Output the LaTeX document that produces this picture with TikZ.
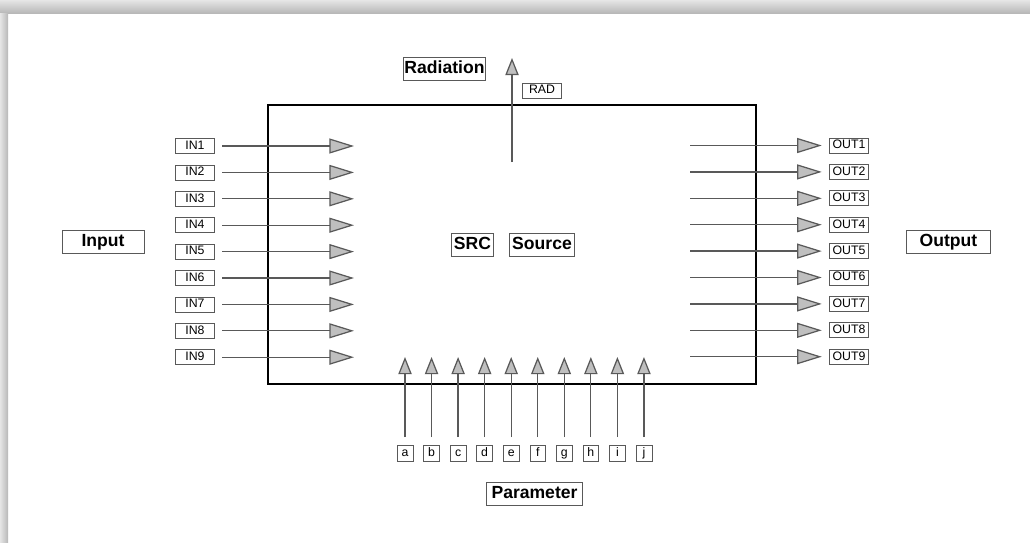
\documentclass[tikz,border=0pt]{standalone}
\usepackage{fontspec}
\setmainfont{Liberation Sans}
\usetikzlibrary{arrows.meta}
\definecolor{wire}{gray}{0.35}
\definecolor{tipfill}{gray}{0.75}
\tikzset{
  sig/.style={draw=wire, line width=0.7pt, -{Triangle[length=14pt,width=8.5pt,fill=tipfill]}},
  upsig/.style={sig, -{Triangle[length=9.8pt,width=7.6pt,fill=tipfill]}},
  tag/.style={draw=wire, fill=white, font=\fontsize{7}{8}\selectfont, inner sep=0.5pt, outer sep=4.5pt,
    text height=5.2pt, text depth=1.4pt, minimum height=8.5pt, minimum width=22pt},
  key/.style={draw=wire, fill=white, font=\fontsize{10}{12}\selectfont\bfseries, inner xsep=1.5pt, inner ysep=0pt,
    text height=7.4pt, text depth=2pt, minimum height=13pt}
}
\begin{document}
\begin{tikzpicture}[x=0.02cm,y=-0.02cm]
\useasboundingbox (0,0) rectangle (1030,542);
\fill[white] (0,0) rectangle (1030,542);
\shade[top color=black!10, bottom color=black!28] (0,0) rectangle (1030,13);
\shade[left color=black!10, right color=black!28] (0,13) rectangle (8,542);
\draw[line width=0.8pt] (268,105) rectangle (756,384);
\node[key] (src) at (472.5,244.5) {SRC};
\node[key] (source) at (542,244.5) {Source};
\node[key, minimum width=46.5pt] (input) at (103,241.5) {Input};
\node[key, minimum width=48pt] (output) at (948.5,241.5) {Output};
\node[key, inner xsep=0.5pt] (radiation) at (444.5,69) {Radiation};
\node[key, minimum width=55pt] (param) at (534.5,494) {Parameter};
\node[tag] (rad) at (542,90.5) {RAD};
\coordinate (rb) at (512,162);
\coordinate (rt) at (512,58);
\draw[upsig] (rb) -- (rt);
\foreach \i in {1,...,9}{
  \node[tag] (in\i) at (195,{146+26.4*(\i-1)}) {IN\i};
  \coordinate (ti\i) at (354,{146+26.4*(\i-1)});
  \draw[sig] (in\i) -- (ti\i);
  \node[tag] (out\i) at (849,{145.5+26.4*(\i-1)}) {OUT\i};
  \coordinate (to\i) at (690,{145.5+26.4*(\i-1)});
  \draw[sig] (to\i) -- (out\i);
}
\foreach \l [count=\k from 0] in {a,b,c,d,e,f,g,h,i,j}{
  \node[tag, minimum width=9pt, minimum height=9pt] (p\l) at ({405+26.55*\k},453) {\l};
  \coordinate (tp\l) at ({405+26.55*\k},357);
  \draw[upsig] (p\l) -- (tp\l);
}
\end{tikzpicture}
\end{document}
